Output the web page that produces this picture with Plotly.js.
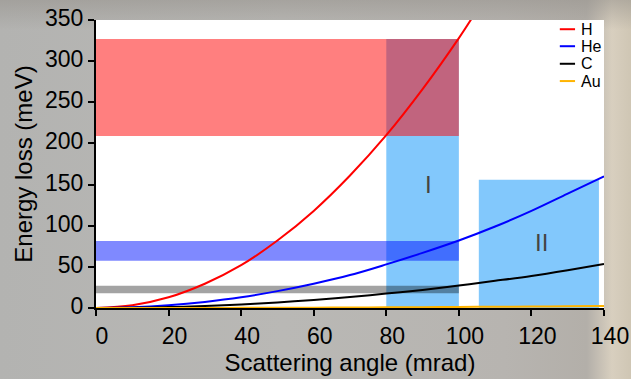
<!DOCTYPE html>
<html>
<head>
<meta charset="utf-8">
<script src="https://cdn.plot.ly/plotly-3.0.1.min.js"></script>
<style>
html, body { margin:0; padding:0; width:631px; height:379px; overflow:hidden; }
body { background: linear-gradient(to right, #b3b3b1 0%, #b9b8b5 45%, #b7b4b0 80%, #b3afa9 93%, #d8cfbf 97%, #cfc6b4 100%); }
#bgtop { position:absolute; left:0; top:0; width:631px; height:30px; background: linear-gradient(to bottom, rgba(150,146,140,0.55), rgba(150,146,140,0)); }
#chart { position:absolute; left:0; top:0; width:631px; height:379px; }
</style>
</head>
<body>
<div id="bgtop"></div>
<div id="chart"></div>
<script>
// Scattering angle (mrad) and energy loss (meV)
var angleH  = [0, 10, 20, 30, 40, 50, 60, 70, 80, 90, 100, 105];
var lossH   = [0, 3.3, 13, 29.5, 52, 82, 118, 161, 210, 266, 328, 362];

var angle   = [0, 10, 20, 30, 40, 50, 60, 70, 80, 90, 100, 110, 120, 130, 140];
var lossHe  = [0, 0.8, 3.3, 7.4, 13, 20.5, 29.5, 40, 53, 67, 82, 99, 118, 139, 160];
var lossC   = [0, 0.27, 1.1, 2.5, 4.4, 6.8, 9.8, 13.4, 17.5, 22, 27.3, 33, 39, 46, 53.5];
var lossAu  = [0, 0.01, 0.05, 0.11, 0.2, 0.31, 0.45, 0.61, 0.8, 1.0, 1.25, 1.5, 1.8, 2.1, 2.45];

var seriesNames  = ["H", "He", "C", "Au"];
var seriesColors = ["#ff0000", "#0000ff", "#000000", "#ffb400"];

// Shaded regions: [x0, x1, y0, y1]
var regionNames = ["I", "II", "H band", "He band", "C band"];
var regionX0 = [80, 105.5, 0, 0, 0];
var regionX1 = [100, 138.6, 100, 100, 100];
var regionY0 = [0, 0, 209, 57.5, 18];
var regionY1 = [327, 156, 327, 81.5, 27];
var regionColors = ["#82c8fc", "#82c8fc", "rgba(255,0,0,0.5)", "rgba(0,20,255,0.5)", "rgba(0,0,0,0.36)"];

// Region labels
var labelText = ["I", "II"];
var labelX = [91.5, 122.8];
var labelY = [150, 80];

var xTicks = [0, 20, 40, 60, 80, 100, 120, 140];
var yTicks = [0, 50, 100, 150, 200, 250, 300, 350];

var FONT = "Liberation Sans, Arial, sans-serif";

var traces = [
  {x: angleH, y: lossH, name: seriesNames[0]},
  {x: angle, y: lossHe, name: seriesNames[1]},
  {x: angle, y: lossC, name: seriesNames[2]},
  {x: angle, y: lossAu, name: seriesNames[3]}
].map(function(t, i){
  t.type = "scatter"; t.mode = "lines";
  t.line = {color: seriesColors[i], width: 2, shape: "spline"};
  t.showlegend = false; t.hoverinfo = "skip";
  return t;
});

var shapes = [];
for (var i = 0; i < regionX0.length; i++) {
  shapes.push({type: "rect", xref: "x", yref: "y", layer: "below",
    x0: regionX0[i], x1: regionX1[i], y0: regionY0[i], y1: regionY1[i],
    fillcolor: regionColors[i], line: {width: 0}});
}

var annotations = [];
for (var j = 0; j < labelText.length; j++) {
  annotations.push({x: labelX[j], y: labelY[j], xref: "x", yref: "y", text: labelText[j],
    showarrow: false, font: {family: FONT, size: 24, color: "#444444"}});
}

// Custom legend (short line keys)
var legY = [0.968, 0.909, 0.848, 0.788];
for (var k = 0; k < seriesNames.length; k++) {
  shapes.push({type: "line", xref: "paper", yref: "paper",
    x0: 0.913, x1: 0.943, y0: legY[k], y1: legY[k],
    line: {color: seriesColors[k], width: 2}});
  annotations.push({xref: "paper", yref: "paper", x: 0.951, y: legY[k],
    xanchor: "left", yanchor: "middle", text: seriesNames[k], showarrow: false,
    font: {family: FONT, size: 16, color: "#000000"}});
}

var layout = {
  width: 631, height: 379,
  margin: {l: 96, r: 27, t: 20, b: 71},
  paper_bgcolor: "rgba(0,0,0,0)",
  plot_bgcolor: "#ffffff",
  font: {family: FONT, color: "#000000"},
  xaxis: {
    range: [0, 140], tickvals: xTicks, ticktext: xTicks.map(String),
    showgrid: false, zeroline: false, showline: true, linecolor: "#000000", linewidth: 2,
    ticks: "outside", ticklen: 6, tickwidth: 2, tickcolor: "#000000",
    ticklabelshift: 6,
    tickfont: {family: FONT, size: 23, color: "#000000"},
    title: {text: "Scattering angle (mrad)", font: {family: FONT, size: 24, color: "#000000"}, standoff: 6}
  },
  yaxis: {
    range: [0, 350], tickvals: yTicks, ticktext: yTicks.map(String),
    showgrid: false, zeroline: false, showline: true, linecolor: "#000000", linewidth: 2,
    ticks: "outside", ticklen: 6, tickwidth: 2, tickcolor: "#000000",
    ticklabelshift: -2,
    tickfont: {family: FONT, size: 23, color: "#000000"},
    title: {text: "Energy loss (meV)", font: {family: FONT, size: 24, color: "#000000"}, standoff: 6}
  },
  shapes: shapes,
  annotations: annotations,
  showlegend: false
};

Plotly.newPlot("chart", traces, layout, {displayModeBar: false, staticPlot: true});
</script>
</body>
</html>
